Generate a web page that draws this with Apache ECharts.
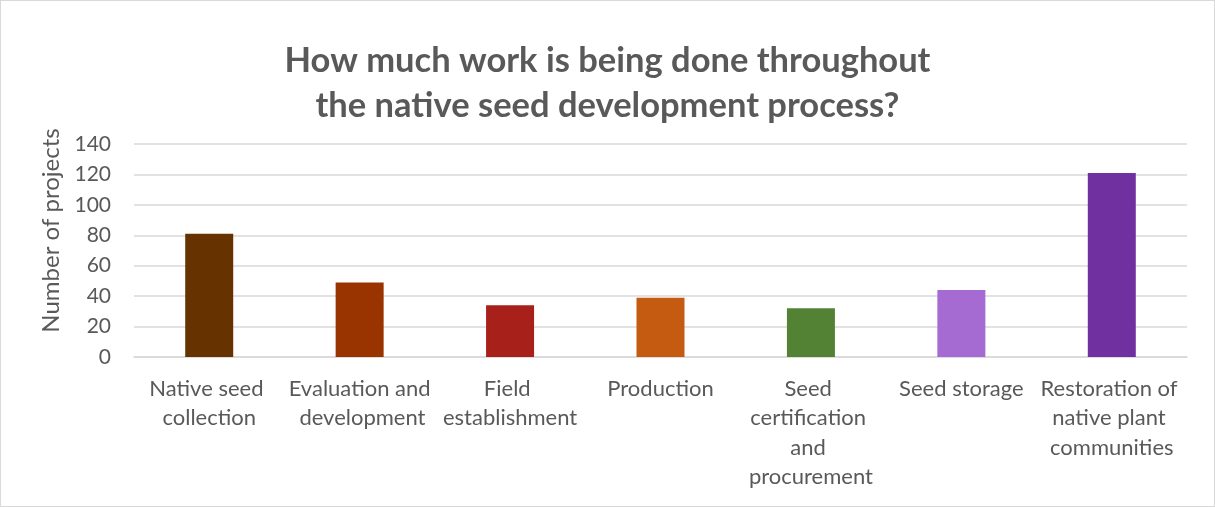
<!DOCTYPE html>
<html lang="en">
<head>
    <meta charset="UTF-8">
    <title>Native seed development process</title>
    <script src="https://cdn.jsdelivr.net/npm/echarts@6.0.0/dist/echarts.min.js"></script>
    <style>
        html, body { margin: 0; padding: 0; background: #fff; }
        #main { width: 1213px; height: 505px; border: 1px solid #d9d9d9; }
    </style>
</head>
<body>
    <div id="main"></div>
    <script>
        // categories and values
        var stages = [
            'Native seed collection',
            'Evaluation and development',
            'Field establishment',
            'Production',
            'Seed certification and procurement',
            'Seed storage',
            'Restoration of native plant communities'
        ];
        var projects = [81, 49, 34, 39, 32, 44, 121];
        var barColors = ['#663300', '#993300', '#A8201A', '#C55A11', '#548235', '#A66BD3', '#7030A0'];

        var chart = echarts.init(document.getElementById('main'));

        var font = 'Lato, "Open Sans", sans-serif';

        chart.setOption({
            animation: false,
            textStyle: { fontFamily: font },
            title: {
                text: 'How much work is being done throughout\nthe native seed development process?',
                left: 'center',
                top: 32,
                textStyle: {
                    color: '#595959',
                    fontSize: 34.5,
                    fontWeight: 'bold',
                    fontFamily: font,
                    lineHeight: 45
                }
            },
            grid: { left: 133, right: 27, top: 143, bottom: 149, containLabel: false },
            xAxis: {
                type: 'category',
                data: stages,
                axisLine: { lineStyle: { color: '#d9d9d9', width: 1.5 } },
                axisTick: { show: false },
                axisLabel: {
                    color: '#595959',
                    fontSize: 22,
                    fontFamily: font,
                    interval: 0,
                    margin: 17,
                    width: 148,
                    overflow: 'break',
                    lineHeight: 29.5
                }
            },
            yAxis: {
                type: 'value',
                min: 0,
                max: 140,
                interval: 20,
                name: 'Number of projects',
                nameLocation: 'middle',
                nameGap: 71,
                nameTextStyle: { color: '#595959', fontSize: 24, fontFamily: font, padding: [0, 0, 0, 40] },
                axisLine: { show: false },
                axisTick: { show: false },
                axisLabel: { color: '#595959', fontSize: 21, fontFamily: font, margin: 23 },
                splitLine: { lineStyle: { color: '#d9d9d9', width: 1.5 } }
            },
            series: [{
                type: 'bar',
                data: projects.map(function (v, i) {
                    return { value: v, itemStyle: { color: barColors[i] } };
                }),
                barWidth: 48
            }]
        });
    </script>
</body>
</html>
